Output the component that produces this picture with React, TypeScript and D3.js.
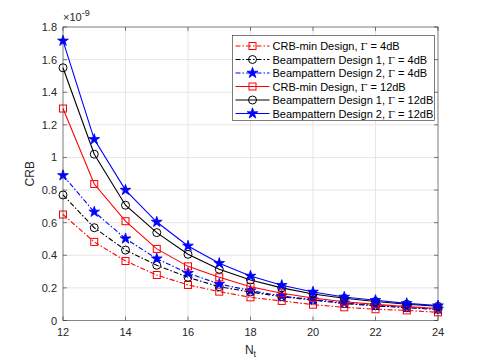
import * as d3 from "d3";

const nt = [12, 13, 14, 15, 16, 17, 18, 19, 20, 21, 22, 23, 24];

// values in units of 1e-9
const crb4 = [0.65, 0.482, 0.365, 0.279, 0.218, 0.177, 0.142, 0.12, 0.097, 0.081, 0.069, 0.062, 0.05];
const beam1_4 = [0.77, 0.569, 0.432, 0.339, 0.265, 0.207, 0.175, 0.146, 0.125, 0.104, 0.09, 0.078, 0.068];
const beam2_4 = [0.89, 0.666, 0.502, 0.379, 0.29, 0.224, 0.183, 0.15, 0.128, 0.108, 0.092, 0.08, 0.07];
const crb12 = [1.3, 0.837, 0.609, 0.439, 0.332, 0.265, 0.207, 0.167, 0.138, 0.115, 0.099, 0.085, 0.074];
const beam1_12 = [1.55, 1.02, 0.707, 0.539, 0.406, 0.314, 0.248, 0.2, 0.163, 0.136, 0.117, 0.1, 0.087];
const beam2_12 = [1.715, 1.111, 0.8, 0.604, 0.457, 0.351, 0.273, 0.216, 0.175, 0.144, 0.124, 0.105, 0.091];

const xTicks = [12, 14, 16, 18, 20, 22, 24];
const yTicks = [0, 0.2, 0.4, 0.6, 0.8, 1, 1.2, 1.4, 1.6, 1.8];

type Marker = "square" | "circle" | "star";
const series: { name: string; gamma: string; values: number[]; color: string; dash: boolean; marker: Marker }[] = [
  { name: "CRB-min Design, ", gamma: "4dB", values: crb4, color: "#ff0000", dash: true, marker: "square" },
  { name: "Beampattern Design 1, ", gamma: "4dB", values: beam1_4, color: "#000000", dash: true, marker: "circle" },
  { name: "Beampattern Design 2, ", gamma: "4dB", values: beam2_4, color: "#0000ff", dash: true, marker: "star" },
  { name: "CRB-min Design, ", gamma: "12dB", values: crb12, color: "#ff0000", dash: false, marker: "square" },
  { name: "Beampattern Design 1, ", gamma: "12dB", values: beam1_12, color: "#000000", dash: false, marker: "circle" },
  { name: "Beampattern Design 2, ", gamma: "12dB", values: beam2_12, color: "#0000ff", dash: false, marker: "star" },
];

const W = 485;
const H = 363;
const M = { left: 63, right: 47, top: 27, bottom: 42.5 };
const FONT = "Liberation Sans, Arial, Helvetica, sans-serif";

const MarkerShape = ({ type, x, y, color }: { type: Marker; x: number; y: number; color: string }) => {
  if (type === "square") {
    return <rect x={x - 3.5} y={y - 3.5} width={7} height={7} fill="none" stroke={color} strokeWidth={1} />;
  }
  if (type === "circle") {
    return <circle cx={x} cy={y} r={4} fill="none" stroke={color} strokeWidth={1} />;
  }
  const star = d3.symbol(d3.symbolStar, 36)();
  return <path d={star || ""} transform={`translate(${x},${y})`} fill={color} stroke={color} strokeWidth={0.8} />;
};

export default function App() {
  const innerW = W - M.left - M.right;
  const innerH = H - M.top - M.bottom;
  const x = d3.scaleLinear().domain([12, 24]).range([0, innerW]);
  const y = d3.scaleLinear().domain([0, 1.8]).range([innerH, 0]);
  const line = d3
    .line<number>()
    .x((_, i) => x(nt[i]))
    .y((d) => y(d));

  return (
    <svg
      width={W}
      height={H}
      style={{ position: "absolute", left: 0, top: 0, background: "#fff" }}
      fontFamily={FONT}
    >
      <g transform={`translate(${M.left},${M.top})`}>
        {/* grid */}
        {xTicks.map((t) => (
          <line key={"gx" + t} x1={x(t)} x2={x(t)} y1={0} y2={innerH} stroke="#e6e6e6" strokeWidth={1} />
        ))}
        {yTicks.map((t) => (
          <line key={"gy" + t} x1={0} x2={innerW} y1={y(t)} y2={y(t)} stroke="#e6e6e6" strokeWidth={1} />
        ))}

        {/* series */}
        {series.map((s, k) => (
          <g key={k}>
            <path
              d={line(s.values) || ""}
              fill="none"
              stroke={s.color}
              strokeWidth={1.1}
              strokeDasharray={s.dash ? "5 2 1.5 2" : undefined}
            />
            {s.values.map((v, i) => (
              <MarkerShape key={i} type={s.marker} x={x(nt[i])} y={y(v)} color={s.color} />
            ))}
          </g>
        ))}

        {/* axes box */}
        <rect x={0} y={0} width={innerW} height={innerH} fill="none" stroke="#262626" strokeWidth={0.6} opacity={0.85} />
        {xTicks.map((t) => (
          <g key={"tx" + t}>
            <line x1={x(t)} x2={x(t)} y1={innerH} y2={innerH - 4} stroke="#262626" strokeWidth={0.6} />
            <line x1={x(t)} x2={x(t)} y1={0} y2={4} stroke="#262626" strokeWidth={0.6} />
            <text x={x(t)} y={innerH + 15} textAnchor="middle" fontSize={11} fill="#262626">
              {t}
            </text>
          </g>
        ))}
        {yTicks.map((t) => (
          <g key={"ty" + t}>
            <line x1={0} x2={4} y1={y(t)} y2={y(t)} stroke="#262626" strokeWidth={0.6} />
            <line x1={innerW} x2={innerW - 4} y1={y(t)} y2={y(t)} stroke="#262626" strokeWidth={0.6} />
            <text x={-6} y={y(t) + 4} textAnchor="end" fontSize={11} fill="#262626">
              {d3.format("~g")(+t.toFixed(1))}
            </text>
          </g>
        ))}
        <text x={0} y={-6} fontSize={11} fill="#262626">
          ×10
          <tspan dy={-5} fontSize={9}>
            -9
          </tspan>
        </text>

        {/* axis labels */}
        <text x={innerW / 2} y={innerH + 33} textAnchor="middle" fontSize={12} fill="#262626">
          N
          <tspan dy={3} fontSize={9}>
            t
          </tspan>
        </text>
        <text
          transform={`translate(${-29},${innerH / 2})rotate(-90)`}
          textAnchor="middle"
          fontSize={12}
          fill="#262626"
        >
          CRB
        </text>

        {/* legend */}
        <g transform={`translate(${232.5 - M.left},${35.5 - M.top})`}>
          <rect x={0} y={0} width={202} height={85} fill="#fff" stroke="#262626" strokeWidth={0.6} />
          {series.map((s, k) => {
            const ly = 10.5 + k * 13.5;
            return (
              <g key={k}>
                <line
                  x1={3}
                  x2={37}
                  y1={ly}
                  y2={ly}
                  stroke={s.color}
                  strokeWidth={1.1}
                  strokeDasharray={s.dash ? "5 2 1.5 2" : undefined}
                />
                <MarkerShape type={s.marker} x={20} y={ly} color={s.color} />
                <text x={40} y={ly + 4} fontSize={11} fill="#000">
                  {s.name}
                  <tspan fontFamily="DejaVu Serif, serif" fontSize={10}>Γ</tspan>
                  {" = " + s.gamma}
                </text>
              </g>
            );
          })}
        </g>
      </g>
    </svg>
  );
}
